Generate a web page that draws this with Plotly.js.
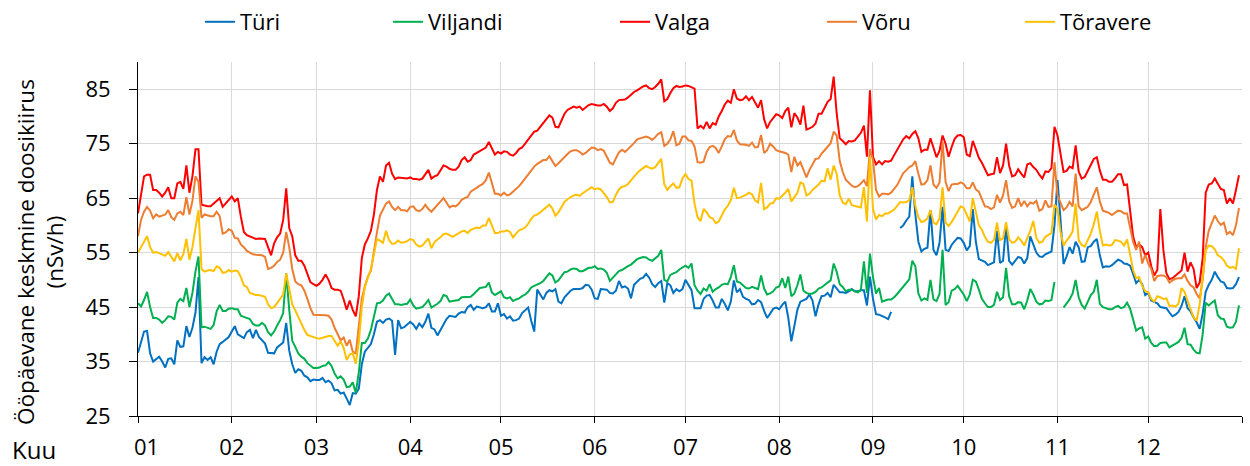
<!DOCTYPE html>
<html>
<head>
<meta charset="utf-8">
<script src="https://cdn.plot.ly/plotly-3.0.1.min.js"></script>
<style>
html,body{margin:0;padding:0;background:#fff;}
#chart{width:1250px;height:466px;}
</style>
</head>
<body>
<div id="chart"></div>
<script>
// Series names and colours
const seriesNames = ["Türi", "Viljandi", "Valga", "Võru", "Tõravere"];
const seriesColors = ["#0070C0", "#00B050", "#FF0000", "#ED7D31", "#FFC000"];

// Month tick labels (first label sits just right of the axis, as in the original)
const monthTicks = ["2023-01-01","2023-02-01","2023-03-01","2023-04-01","2023-05-01","2023-06-01","2023-07-01","2023-08-01","2023-09-01","2023-10-01","2023-11-01","2023-12-01","2024-01-01"];
const monthLabels = ["\u00a0\u00a0\u00a001","02","03","04","05","06","07","08","09","10","11","12",""];

// Axis titles
const yTitleText = "Ööpäevane keskmine doosikiirus<br>(nSv/h)";
const xTitleText = "Kuu";

// Daily values (nSv/h), day 1 .. day 365
const turi = [
36.6,38.5,40.5,40.6,36.5,35,35.5,35.9,35,33.9,
35.5,35.6,34.5,38.9,37.7,37.8,41.5,39.5,41.2,44,
50.5,34.7,35.8,35.3,35.8,34.5,36.8,38.2,38.6,39,
39.5,40.5,41.5,40,39.6,39.3,40.4,40.8,39.3,40.8,
39.5,38.9,38.3,36.6,36.6,36.5,37.6,38,38.5,42.1,
37,34.5,32.9,33.6,33.3,32.4,32.1,31.4,31.7,31.6,
31.6,32,31.2,31.5,31,29.7,29.8,29.1,29.3,28.2,
27,29.2,29.1,30,34.5,36.8,37.6,38.2,40,42.3,
42.6,42.1,42.7,42.9,42.5,36.2,42.6,41.1,41.3,41.9,
42.3,41.8,41,42,41.3,42.3,43.8,41.2,40.9,39.8,
40.8,41.9,42.8,43.4,43.3,43.2,43.8,44.1,44,45,
45.4,44.5,45.1,45,44.8,45,45.7,44.2,44.2,45.7,
43.4,43.7,42.9,43.3,42.5,42.6,42.9,43.9,44.4,44.9,
42.5,40.5,48.2,47.2,46.4,47.6,48.1,47.9,48.3,46,
45.7,46.8,47.5,48,48.3,48.3,48.3,48.5,49.1,49,
48.2,46.6,46.5,48.3,48.3,48.2,47.6,47.5,48,49.8,
48.6,48.8,48.4,46.6,49.1,49.6,50.2,50.4,51.1,50.4,
49.2,48.7,49.4,49.8,45.8,49.4,49,47.6,48.3,47.9,
48.3,50,48.9,48.1,44.8,44.8,44.8,46.5,47.1,47.2,
46.2,44.9,44.9,46.5,45.6,44.4,46,49.9,47.7,48.3,
46.9,46.5,46.3,45.5,45.6,46.3,45.9,44.3,43,43.8,
44.7,44.9,44.6,45.4,46,43,38.7,41.5,44.5,46,
46.3,46.5,47.3,46.2,43.3,45.5,47,47.1,47.6,46.8,
49.1,48.3,47.7,47.7,47.6,47.9,48.3,47.9,47.9,48.1,
48.1,45.3,50.6,46.5,43.7,43.6,43.4,43.1,42.8,44.1,
null,null,59.5,60,60.9,61.6,69,62,57,55.2,
55.7,55.9,62.8,55.5,54.5,56.8,63.4,55.5,55.3,56.4,
57.1,57.7,57.6,56.8,55.4,56.2,63,57,53.8,53.5,
53.3,52.7,53,53.2,59,53.1,53.5,60,53.5,52.8,
53.5,54.2,54,53,54,58,56.5,55,54.3,54.2,
54.7,55,55.2,60,68.3,61,52.9,54.3,56,54.8,
57,56,53.3,53.4,56,56.2,57,57.5,54.5,52.3,
52.5,52.4,52.7,53.2,53.7,53.5,53,52.9,52.6,51.1,
49.4,50,49.2,47.2,47.6,46.2,45.9,45.7,45,44.9,
44.8,44,43.3,43.6,44.1,45.2,47,44.8,44.2,43.1,
42.2,41,43.8,47.8,49.1,50,51.5,50.5,49.7,49.5,
48.5,48.4,48.5,49.2,50.5
];

const viljandi = [
45.7,45.1,46.3,47.8,45,43,43,42.7,42.1,42.6,
43.3,43.2,42.7,45.8,46.5,46.1,48.5,45,47.6,51.5,
54.3,41.3,41.4,41.2,41,41.7,44.2,45.4,44.3,44.3,
44.7,44.8,44.6,44.6,43.4,43.2,43,42.8,41.9,41.6,
41.6,42.1,41.6,40.4,39.8,40.5,41.6,42.6,43.9,51.2,
44.5,38.8,37.7,36.5,35.9,35.5,34.7,34.2,33.8,33.8,
33.9,34.2,34.3,34.9,34.2,32.8,31.9,32.3,31.7,30.3,
30.4,31.2,29.2,33,38.4,38.4,39.2,40.8,43.5,45.7,
45.8,46.2,47.1,47.5,46.5,45.5,45.5,45.4,45.5,45.6,
46.4,45.3,44.7,44.8,45,45.6,46.3,44.9,45.2,45.6,
46.1,47.2,47,46,46.1,46.2,46.3,46.8,46.8,46.8,
46.9,47.4,48,48.5,48.6,48.7,49.5,47.7,47.2,47.6,
47.9,46.8,46.6,46.8,46.1,46.4,46.6,47,47.3,47.8,
48.6,48.9,49.1,49.4,49.8,50.4,51.2,50.8,49.5,49.9,
50.7,51.4,51.5,51.9,52.1,52,51.6,51.6,51.9,52.2,
52.2,52.5,52,52.1,51.9,51.3,49.8,50.4,50.9,51.6,
51.8,52.2,52.5,52.8,53.4,53.8,54,54.2,54.1,53.7,
53.5,53.9,54.4,55.5,50,49.7,50.9,51.2,51.4,51.9,
52.3,52.6,52.2,53,49,48,47.4,48.4,48,49.2,
47.8,48.3,48.6,49.1,49.3,49.2,50.5,52.7,49.7,49.5,
49,48.5,48.4,48.7,48.5,48.3,50.8,48.4,47.3,47.5,
47.9,48.6,48.8,50.3,48.5,50.6,47,47.5,49,51,
48,47.6,47.4,47.5,47.8,48.4,48.6,49.1,49.5,49.9,
53,51.5,49.2,48.7,47.9,48.2,48.2,47.9,47.7,48.2,
53.4,47.6,54.8,50.5,47.5,48.5,46,46.2,46.4,46.4,
46.8,47.4,48.1,48.6,49.3,50.1,53.5,52.5,47.5,46.2,
46.6,46.3,50,46.4,46.1,47.4,55.5,45.4,45.9,48,
48.3,48.9,48.1,47.3,46.1,47.3,50,49.7,48.2,46.5,
45.7,45,45,45.4,47.8,46.3,46.8,52.2,47,45.5,
45.5,45.9,45.8,44.6,46.2,48.3,47.3,46,45.5,45.6,
46.2,46.1,46.3,49.6,null,null,44.9,45.7,46.4,47.5,
50,46.8,45.4,44.7,46,47.2,47.8,50,45.6,45,
44.8,44.6,44.6,45,45.2,44.8,45,45.8,44.7,42.5,
40.7,41.1,41.3,39.2,39.6,38.4,37.8,37.9,38.4,38.5,
38.5,37.6,37.9,38.2,38.6,39.3,41.2,38.2,38.1,37.2,
36.6,36.5,40,45.8,45.3,45.8,46.2,43.5,42.9,42.8,
41.4,41.2,41.3,42.3,45.3
];

const valga = [
62.2,66,69,69.3,69.3,66.5,66.5,66,65.3,66,
67,65,65,67.7,68,66.7,71,66,69,74,
74,63.8,63.6,63.5,63.5,64,64.5,65,63.4,64,
64.7,65.3,64.4,65,61.6,58.8,58.2,58,57.8,57.5,
57.6,57.6,57.5,56,54.5,56.7,57.8,58.5,61,66.8,
59.5,58,54.5,53.5,53.5,52.6,51,49.6,49.2,48.9,
49.3,50,51,50,48.5,48.2,48.2,48,46.4,44.5,
46.2,44.5,43.3,47,54,56.5,57.6,59,62,66.5,
69,68,71,71.5,69.5,68.5,68.8,68.7,68.6,68.6,
68.8,68.5,68.5,68.4,68.6,69.5,70.2,68.6,69,69.2,
70,71,70.8,70.4,70.2,70.2,70.8,72,72.5,71.7,
72,73,73.3,73.6,74,74.3,75.3,74,73,73.5,
73.2,73.6,73.5,73,72.8,73.3,74,74.3,75,75.8,
76.6,77.2,77.4,78.1,78.8,79.3,80.2,79.8,78.1,78,
79.4,80.5,81.2,81.5,81.8,81.6,81.8,81.2,81.6,82.1,
82.3,82.1,82,82,82.3,81.8,81,81.5,82.5,83,
83.1,83.1,83.5,84,84.5,84.8,85.2,85.5,85.7,85.2,
85,85.4,86,86.8,82.8,83.2,84.3,85.2,85.6,85.4,
85.5,85.7,85.6,85.4,85.1,77.8,78.3,77.8,79,77.8,
78.8,78.5,80,81,82.2,82.9,82.5,85,83.3,83,
83.1,83.7,83,83.6,82.5,81.6,83,79.5,77.8,79,
79.7,80.4,80.2,79.7,81,81.6,78,80.6,79.8,78.5,
82,77.6,77.8,78.1,78.7,80.5,80.5,81.7,82.7,83.2,
87.3,80.5,76,75.5,74.9,75.5,75.4,75.6,76.3,77,
78.3,72.6,84.8,72.6,71.2,71.8,71.2,71.8,71.7,71.9,
72.9,73.8,74.8,75.8,76.4,76,76.8,77.3,76,73.5,
73.9,73.9,76,74,72.5,73.7,76.5,75,72.6,74.4,
75.9,76.5,76.6,76.2,73,72.7,75.5,74,72.4,71.5,
70.3,69.2,69.4,69.5,72.5,69.6,71,75,71,69,
69.2,70.3,69.5,68.8,71.2,71.4,70.7,70.2,69.3,68.6,
69.9,69.8,70.5,78.1,76.5,73.5,69.8,70,70.8,70.5,
74.7,69.9,68.6,68.9,70,71.3,72.2,72.5,70.1,68.4,
68.4,68,68,68.6,69.4,69.4,67.4,67.5,63,58,
56,56.5,56,54.5,55,52.5,50.8,51.8,63,55.5,
51.2,50.1,50.3,50.8,51.2,51.7,55,51.5,53.2,52,
48.5,49.5,54,66,67.5,67.7,68.6,67.5,66.7,66.5,
64,65,64,66.5,69.2
];

const voru = [
58,61,62.5,63.4,62.7,61.3,62,61.6,61.8,62,
62.8,61.5,61,62.2,62.5,61.9,65.2,62,64.5,69,
68,61.4,62,61.8,61.7,61.7,62.5,61.7,58.5,58.7,
59.3,59,57.7,57.6,56.5,56,55.3,55,54.7,54.6,
54.6,54.5,54.2,52,52.2,52.6,53.3,53.7,55,58.8,
56,52,49.7,49.2,49,48,46.5,44.8,43.6,43.6,
43.6,43.5,43.5,43.4,42.7,41.2,40,38.9,39.4,37.9,
39,36.8,36.5,42,46.5,48.8,50.6,51.7,55.5,58.7,
61.8,63,64,64.4,63.4,62.8,63.4,62.8,62.8,62.6,
63.4,63.5,62.8,62.6,63,63.8,63,62.5,63.1,63.6,
64.2,65,64.2,63.3,63.6,63.5,63.9,64.7,65,65.2,
66.2,66.6,66.9,67.3,67.6,68.3,69.7,67.5,65.8,65.8,
65.5,66,65.5,65.7,66.2,66.6,67.2,67.9,68.6,69.5,
70.2,70.8,71.3,71.6,72,72,72.7,71.8,70.9,71.4,
72,72.7,73.1,73.6,73.8,73.8,73.5,73,73.3,73.8,
74.3,74.2,73.8,74,73.7,72.6,71.5,71.2,72.4,73.4,
73.9,73.5,74,74.5,75.1,75.8,76,76.1,76.3,76.1,
75.7,76.2,76.8,77.1,74.6,75,75.8,77.3,74.7,75,
76.3,76.3,75.6,75.5,74.5,71.6,71.5,71.7,73.5,74.4,
74.6,74.2,73.3,74.5,75.8,76.4,76.3,77.5,75.6,74.9,
74.9,74.8,74.6,75.2,74.3,74.4,76.6,73.3,73.8,75,
74.5,73.8,73.6,73.5,73.3,73,69.8,72.6,71,71.6,
70,68.8,70.2,71.3,72.2,72.3,73.2,73.8,74.4,75.1,
77.2,76.5,71.8,69.8,68.4,67.9,67.3,67,67.2,67.7,
68.3,67.2,74,72,66.5,65.3,65.8,65.8,65.7,66,
66.7,67.4,68.5,69.6,70.1,70.7,71,71.8,69.5,67.5,
67.6,68.3,71,67.5,66.9,67.9,75.4,68,66.3,67.5,
67.6,67.6,67.9,67.6,66.8,66.8,67.9,66.6,66.2,64.9,
63.5,63.4,63,63.3,65.6,64.2,65.5,68.3,64.5,63.2,
63.5,65,63.5,64.5,63.5,64.2,64,64.5,62.7,63,
64.6,63.4,63.5,71.6,65.5,64.2,62.8,63.3,64.3,63.5,
69.5,63.5,62.8,63.1,63.4,64.3,65.6,67,64.4,62.7,
62.5,62.3,61.9,62.3,62.7,62.6,62.2,62.2,59.7,57,
55.5,57,53,54.6,53,52,49.8,50.7,50.8,50.8,
50.5,49.5,49.9,50.2,50.3,50.3,51,49.8,49,48.6,
47.4,46.6,50,56,59,60.3,61.8,60.8,60.1,60.5,
58.4,58.8,58.2,60,63.2
];

const toravere = [
55,56.1,57,58,56,55,55.1,54.9,54.7,54.4,
55.1,54.2,53.4,54.9,53.6,54.7,57.5,53.7,56,59.5,
62.8,52,51.5,51.7,51.8,51.6,52.5,52.2,51.3,51.4,
51.8,51.5,51.7,51.6,50.5,49,48.7,47.6,47.4,47.2,
47.2,47,46.9,45.5,44.8,45,45.8,46.4,47.3,51.2,
48,45.5,44.4,43.1,42,40.8,39.9,39.7,39.4,39.3,
39.2,39.4,39.6,39.7,39.7,38.8,37.9,38.7,37.5,35.3,
36.3,36.5,34.6,38.5,45,48.7,50.5,52,54.7,57.5,
57.2,56.8,59,57.3,56.6,56.7,57.2,56.8,56.9,57.1,
57.5,57.3,56.5,56.1,56.3,56.9,57.6,55.8,56.9,57.4,
57.8,58.4,58.5,58.2,57.9,58.2,58.5,58.9,59,58.6,
59.2,59.4,59.6,59.5,60,60,61.4,60,58.6,58.6,
58.9,58.9,59.1,58.8,57.8,58.5,59.1,59.3,59.6,60.3,
61.2,61.8,62,62.4,62.9,63.4,63.8,63.1,61.8,62.4,
63.4,64.3,64.8,65.2,65.5,65.6,65.4,65.9,66.3,66.7,
67,66.6,66.8,66.6,66,65.2,64.2,64.3,65.6,66.6,
67.1,67.2,67.6,68.3,69,69.6,70.1,70.5,70.9,70.6,
70.4,70.7,71.4,72.2,67.5,66.5,67.2,67.7,66.9,67,
68.6,69.4,68.5,68.2,64,61.5,60.8,63,62.4,61.5,
61.3,60.4,60.7,61.7,62.9,63.6,64.6,66.9,65,65.1,
65.3,65.6,66,65.7,64.6,64.2,67.8,63,63.3,64,
64.1,65,64.9,65.4,66,66.7,64.4,65.2,66,67.9,
67.6,65.5,65.8,66.5,67,67.5,68.2,68.1,70.5,68.4,
71,69.5,65.5,64.2,63.9,64.9,63.7,63.6,63.4,63.3,
67,60.7,72.6,63,61.1,61.9,61.7,62.2,62.2,62.6,
62.9,63.6,64.3,64.2,64.3,64.6,67,63.6,61.5,60.6,
60.8,61.3,62.8,60.5,60.2,61.3,67,60.5,59.9,60.6,
61.5,62.4,63.5,63.2,61.8,60.7,65,62.5,60,59.2,
57.9,57,56.8,57.3,60.5,57.3,57.6,60.6,57.5,56.8,
57,57.8,57.2,56.3,57.5,59,60.8,57.7,56.8,57,
57.9,58.3,58.6,63.8,63,58.8,56.3,57.2,57.9,58.9,
64,57.3,56.4,56.1,57.3,58.5,60.2,62.5,59,56.3,
56.5,56.3,56.4,57.3,57.2,57,56.3,57.4,54.7,51.8,
50.3,50.5,48.9,47.9,47.7,46.5,46,47,46.8,46.5,
46.6,45.2,45.3,45.1,45.6,48.5,47.8,46,44.6,43.1,
42.5,45.5,51,55.4,56.3,56.2,55.6,54.5,54.2,53.6,
52.6,52.2,52.4,52,55.8
];

const seriesData = [turi, viljandi, valga, voru, toravere];

// category axis: one entry per day of the year
const dayDates = [];
{
  const t0 = Date.UTC(2023, 0, 1);
  for (let i = 0; i < turi.length; i++) {
    dayDates.push(new Date(t0 + i * 86400000).toISOString().slice(0, 10));
  }
}

const legendTextStart = [242, 430, 657, 864, 1062];
const legendKeys = ["legend", "legend2", "legend3", "legend4", "legend5"];

const traces = seriesNames.map((name, k) => ({
  type: "scatter",
  mode: "lines",
  name: name,
  x: dayDates,
  y: seriesData[k],
  line: {color: seriesColors[k], width: 2},
  connectgaps: false,
  legend: legendKeys[k],
  hoverinfo: "x+y+name"
}));

const FONT = "'Open Sans', 'Noto Sans', sans-serif";
const PLOT_L = 138, PLOT_W = 1104, PLOT_B = 416, PLOT_H = 354;

const layout = {
  width: 1250,
  height: 466,
  margin: {l: 138, r: 8, t: 62, b: 50},
  paper_bgcolor: "#ffffff",
  plot_bgcolor: "#ffffff",
  font: {family: FONT, size: 22, color: "#000000"},
  showlegend: true,
  xaxis: {
    type: "date",
    range: ["2023-01-01", "2024-01-01"],
    tickmode: "array",
    tickvals: monthTicks,
    ticktext: monthLabels,
    showgrid: true,
    gridcolor: "#d9d9d9",
    gridwidth: 1,
    showline: true,
    linecolor: "#000000",
    linewidth: 1,
    ticks: "outside",
    ticklen: 6,
    tickcolor: "#000000",
    tickwidth: 1,
    zeroline: false,
    ticklabelstandoff: 6,
    tickfont: {family: FONT, size: 22, color: "#000000"},
    fixedrange: true
  },
  yaxis: {
    range: [25, 90],
    tick0: 25,
    dtick: 10,
    showgrid: true,
    gridcolor: "#d9d9d9",
    gridwidth: 1,
    showline: true,
    linecolor: "#000000",
    linewidth: 1,
    ticks: "outside",
    ticklen: 8,
    tickcolor: "#000000",
    tickwidth: 1,
    zeroline: false,
    ticklabelstandoff: 14,
    tickfont: {family: FONT, size: 22, color: "#000000"},
    fixedrange: true
  },
  annotations: [
    {
      // y-axis title (two lines, rotated)
      text: yTitleText,
      xref: "paper", yref: "paper",
      x: (40 - PLOT_L) / PLOT_W, y: (PLOT_B - 252) / PLOT_H,
      xanchor: "center", yanchor: "middle",
      textangle: -90,
      showarrow: false,
      font: {family: FONT, size: 22.5, color: "#000000"}
    },
    {
      // x-axis title
      text: xTitleText,
      xref: "paper", yref: "paper",
      x: (34 - PLOT_L) / PLOT_W, y: (PLOT_B - 449) / PLOT_H,
      xanchor: "center", yanchor: "middle",
      showarrow: false,
      font: {family: FONT, size: 24, color: "#000000"}
    }
  ]
};

legendKeys.forEach((key, k) => {
  layout[key] = {
    xref: "container", yref: "container",
    x: (legendTextStart[k] - 42) / 1250,
    y: 1 - 22 / 466,
    xanchor: "left", yanchor: "middle",
    orientation: "h",
    bgcolor: "rgba(0,0,0,0)",
    borderwidth: 0,
    font: {family: FONT, size: 22, color: "#000000"}
  };
});

Plotly.newPlot("chart", traces, layout, {displayModeBar: false, staticPlot: true});
</script>
</body>
</html>
